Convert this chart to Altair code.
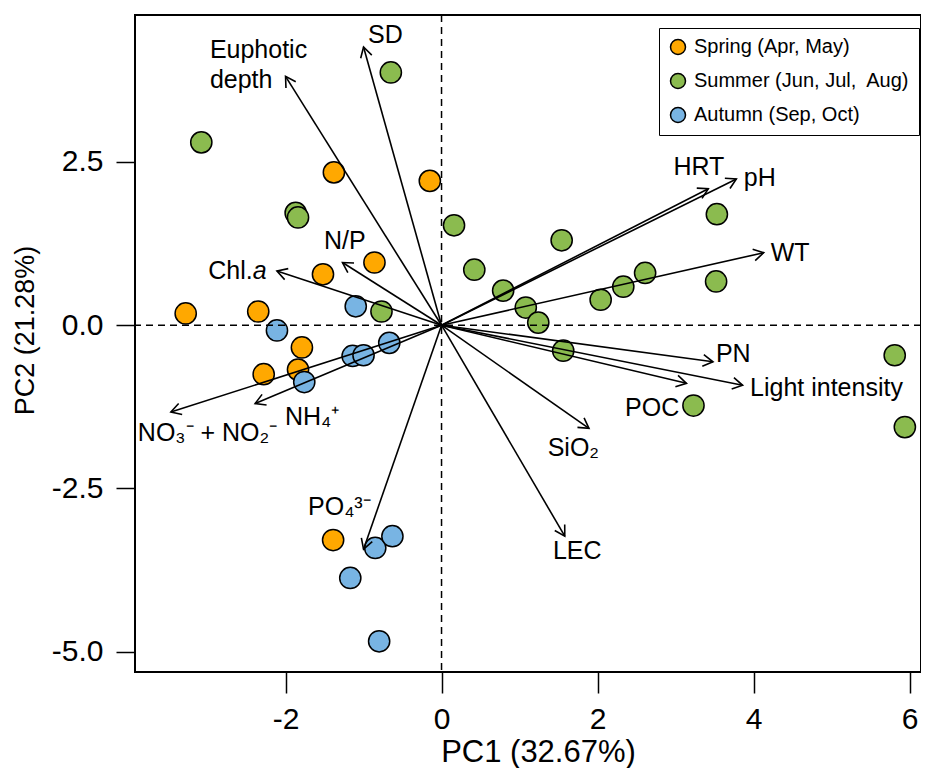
import math
import altair as alt
import pandas as pd

# ---------------- data ----------------
seasons = ["Spring (Apr, May)", "Summer (Jun, Jul,\u00a0 Aug)", "Autumn (Sep, Oct)"]
season_colors = ["#FFA800", "#8BBB4F", "#78B4E3"]

spring_pc1 = [-3.28, -2.35, -1.79, -2.28, -1.84, -1.38, -1.52, -0.86, -0.15, -1.39]
spring_pc2 = [0.18, 0.21, -0.34, -0.75, -0.68, 2.34, 0.78, 0.96, 2.21, -3.29]
summer_pc1 = [-3.08, -0.65, -1.87, -1.84, -0.77, 0.16, 1.54, 0.42, 0.79, 1.08,
              1.24, 2.04, 2.33, 2.61, 3.53, 3.52, 1.56, 3.23, 5.81, 5.94]
summer_pc2 = [2.80, 3.87, 1.72, 1.65, 0.21, 1.53, 1.30, 0.85, 0.53, 0.27,
              0.04, 0.39, 0.59, 0.80, 1.70, 0.67, -0.39, -1.23, -0.46, -1.56]
autumn_pc1 = [-1.10, -2.11, -1.76, -1.14, -1.00, -0.67, -0.85, -0.63, -1.17, -0.80]
autumn_pc2 = [0.29, -0.08, -0.87, -0.47, -0.46, -0.27, -3.41, -3.23, -3.87, -4.84]

variables = ["SD", "Euphotic depth", "N/P", "Chl.a", "HRT", "pH", "WT", "PN",
             "Light intensity", "POC", "SiO2", "LEC", "NO3- + NO2-", "NH4+", "PO43-"]
load_pc1 = [-1.00, -2.00, -1.27, -2.11, 3.42, 3.78, 4.13, 3.48, 3.86, 3.14, 1.89, 1.58, -3.47, -2.39, -1.00]
load_pc2 = [4.26, 3.81, 0.96, 0.83, 2.09, 2.24, 1.11, -0.56, -0.92, -0.89, -1.58, -3.23, -1.33, -1.20, -3.43]

label_text = ["SD", "Euphotic\ndepth", "N/P", "Chl.", "HRT", "pH", "WT", "PN",
              "Light intensity", "POC", "SiO\u2082", "LEC",
              "NO\u2083\u207b + NO\u2082\u207b", "NH\u2084\u207a", "PO\u2084\u00b3\u207b"]
label_pc1 = [-0.72, -2.97, -1.24, -2.42, 3.30, 4.08, 4.47, 3.74, 3.955, 2.70, 1.69, 1.74, -3.00, -1.66, -1.31]
label_pc2 = [4.44, 4.21, 1.29, 0.83, 2.43, 2.25, 1.10, -0.44, -0.96, -1.26, -1.88, -3.46, -1.65, -1.40, -2.79]
label_align = ["center", "left", "center", "right", "center", "center", "center", "center",
               "left", "center", "center", "center", "center", "center", "center"]
italic_text = ["a"]
italic_pc1 = [-2.42]
italic_pc2 = [0.83]

x_ticks = [-2, 0, 2, 4, 6]
y_ticks = [-5.0, -2.5, 0.0, 2.5]
XMIN, XMAX = -3.93, 6.147
YMIN, YMAX = -5.31, 4.75
W, H = 786, 657

# ---------------- tables ----------------
pts = pd.DataFrame({
    "pc1": spring_pc1 + summer_pc1 + autumn_pc1,
    "pc2": spring_pc2 + summer_pc2 + autumn_pc2,
    "season": [seasons[0]] * len(spring_pc1) + [seasons[1]] * len(summer_pc1) + [seasons[2]] * len(autumn_pc1),
})

sx = W / (XMAX - XMIN)
sy = H / (YMAX - YMIN)
loads = pd.DataFrame({"var": variables, "pc1": load_pc1, "pc2": load_pc2})
loads["o1"] = 0.0
loads["o2"] = 0.0
loads["angle"] = [(math.degrees(math.atan2(-y * sy, x * sx)) + 360) % 360 for x, y in zip(load_pc1, load_pc2)]

labs = pd.DataFrame({"text": label_text, "pc1": label_pc1, "pc2": label_pc2, "align": label_align})
ital = pd.DataFrame({"text": italic_text, "pc1": italic_pc1, "pc2": italic_pc2})
zero = pd.DataFrame({"v": [0.0]})

xs = alt.Scale(domain=[XMIN, XMAX], nice=False, zero=False)
ys = alt.Scale(domain=[YMIN, YMAX], nice=False, zero=False)

hyphen = "replace(datum.label, '\u2212', '-')"
x_axis = alt.Axis(values=x_ticks, title="PC1 (32.67%)", tickSize=21, labelPadding=11,
                  labelExpr=hyphen, titleFontSize=31,
                  titleX=403, titleY=89, titleBaseline="alphabetic", titleAnchor="middle", titleAlign="center",
                  labelOverlap=False, labelFlush=False)
y_axis = alt.Axis(values=y_ticks, format=".1f", title="PC2 (21.28%)", tickSize=19,
                  labelPadding=13, labelExpr=hyphen, titleFontSize=27,
                  titleX=-110, titleY=315, titleBaseline="middle", titleAngle=270, titleAlign="center",
                  labelOverlap=False, labelFlush=False)

X = alt.X("pc1:Q", scale=xs, axis=x_axis)
Y = alt.Y("pc2:Q", scale=ys, axis=y_axis)

points = alt.Chart(pts).mark_circle(size=450, stroke="black", strokeWidth=1.5, opacity=1).encode(
    x=X, y=Y,
    fill=alt.Fill("season:N", scale=alt.Scale(domain=seasons, range=season_colors),
                  sort=seasons,
                  legend=alt.Legend(title=None, orient="none", legendX=524, legendY=13,
                                    symbolType="circle", symbolSize=225,
                                    symbolStrokeColor="black", symbolStrokeWidth=1.5,
                                    labelFont="Liberation Sans", labelFontSize=20, labelColor="black",
                                    labelOffset=6, rowPadding=12, padding=9,
                                    strokeColor="black", fillColor="white", labelLimit=400)),
)

vline = alt.Chart(zero).mark_rule(color="black", strokeWidth=1.5, strokeDash=[7, 5]).encode(
    x=alt.X("v:Q", scale=xs, axis=x_axis))
hline = alt.Chart(zero).mark_rule(color="black", strokeWidth=1.5, strokeDash=[7, 5]).encode(
    y=alt.Y("v:Q", scale=ys, axis=y_axis))

shafts = alt.Chart(loads).mark_rule(color="black", strokeWidth=1.6).encode(
    x=alt.X("o1:Q", scale=xs, axis=x_axis), y=alt.Y("o2:Q", scale=ys, axis=y_axis),
    x2="pc1:Q", y2="pc2:Q")

heads = alt.Chart(loads).mark_point(shape="M-1,-0.577L0,0L-1,0.577", filled=False, size=400,
                                    color="black", strokeWidth=1.6, opacity=1).encode(
    x=X, y=Y, angle=alt.Angle("angle:Q", scale=None))

lab_center = alt.Chart(labs[labs["align"] == "center"]).mark_text(
    font="Liberation Sans", fontSize=25, color="black", baseline="middle", align="center").encode(
    x=X, y=Y, text="text:N")
lab_left = alt.Chart(labs[labs["align"] == "left"]).mark_text(
    font="Liberation Sans", fontSize=25, color="black", baseline="middle", align="left",
    lineBreak="\n", lineHeight=30).encode(x=X, y=Y, text="text:N")
lab_right = alt.Chart(labs[labs["align"] == "right"]).mark_text(
    font="Liberation Sans", fontSize=25, color="black", baseline="middle", align="right").encode(
    x=X, y=Y, text="text:N")
lab_ital = alt.Chart(ital).mark_text(
    font="Liberation Sans", fontSize=25, color="black", baseline="middle", align="left",
    fontStyle="italic").encode(x=X, y=Y, text="text:N")

chart = alt.layer(points, vline, hline, shafts, heads, lab_center, lab_left, lab_right, lab_ital).properties(
    width=W, height=H,
    background="white",
    autosize=alt.AutoSizeParams(type="none"),
    padding={"left": 127, "top": 7, "right": 0, "bottom": 96},
).configure_view(stroke="black", strokeWidth=2).configure_axis(
    domain=False, grid=False, tickColor="black", tickWidth=1.5,
    labelFont="Liberation Sans", labelFontSize=30, labelColor="black",
    titleFont="Liberation Sans", titleColor="black", titleFontWeight="normal",
)

chart.save("out.html", embed_options={"renderer": "svg", "actions": False})
